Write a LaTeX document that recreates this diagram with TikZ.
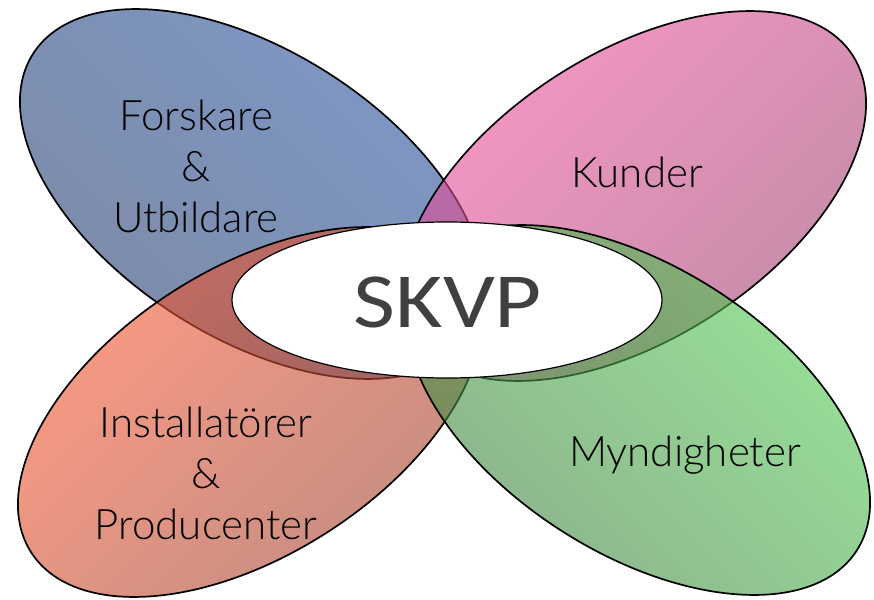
\documentclass[tikz,border=0pt]{standalone}
\usepackage{fontspec}
\setmainfont{Liberation Sans}
\newfontfamily\labelfont{Lato Light}
\newfontfamily\skvpfont{Carlito}[FakeStretch=1.17]

\definecolor{blueL}{RGB}{40,83,163}
\definecolor{blueD}{RGB}{38,60,105}
\definecolor{pinkL}{RGB}{247,80,163}
\definecolor{pinkD}{RGB}{150,63,105}
\definecolor{redL}{RGB}{255,88,47}
\definecolor{redD}{RGB}{150,63,47}
\definecolor{greenL}{RGB}{83,210,83}
\definecolor{greenD}{RGB}{63,122,63}
\definecolor{skvpgray}{RGB}{64,64,64}

\tikzset{
  petal/.style={draw=black,line width=0.85pt,fill opacity=0.6},
  lbl/.style={font=\labelfont\fontsize{21}{25.5}\selectfont,align=center,text=black},
}

\begin{document}
\begin{tikzpicture}[x=0.5pt,y=-0.5pt]
\useasboundingbox (0,0) rectangle (874,600);
\shadedraw[petal,top color=blueL,bottom color=blueD,shading angle=-45,rotate around={-32.7:(252,194)}] (252,194) ellipse [x radius=260,y radius=143];
\shadedraw[petal,top color=pinkL,bottom color=pinkD,shading angle=45,rotate around={32.7:(634,196)}] (634,196) ellipse [x radius=260,y radius=143];
\shadedraw[petal,top color=redL,bottom color=redD,shading angle=45,rotate around={32.7:(250,412)}] (250,412) ellipse [x radius=260,y radius=143];
\shadedraw[petal,top color=greenL,bottom color=greenD,shading angle=-45,rotate around={-32.7:(638,410)}] (638,410) ellipse [x radius=260,y radius=143];
\draw[fill=white,line width=0.6pt] (447,300) ellipse [x radius=215,y radius=78];
\node[font=\skvpfont\fontsize{39}{39}\selectfont,text=skvpgray] (skvp) at (448,302) {SKVP};
\node[lbl] (forskare) at (196,166) {Forskare\\\&\\Utbildare};
\node[lbl] (kunder) at (637,172) {Kunder};
\node[lbl] (install) at (206,473) {Installatörer\\\&\\Producenter};
\node[lbl] (myndig) at (685,455) {Myndigheter};
\end{tikzpicture}
\end{document}
